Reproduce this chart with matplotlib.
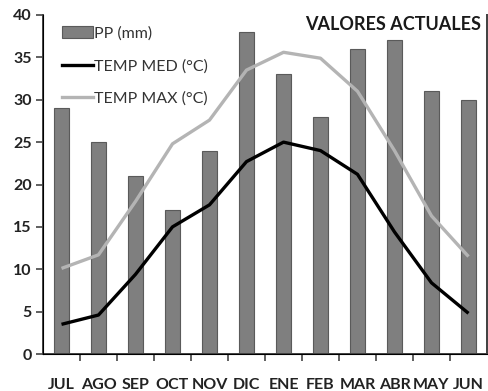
import numpy as np
import matplotlib
matplotlib.use("Agg")
import matplotlib.pyplot as plt
from matplotlib.patches import Patch
from matplotlib.lines import Line2D

months = ["JUL", "AGO", "SEP", "OCT", "NOV", "DIC", "ENE", "FEB", "MAR", "ABR", "MAY", "JUN"]
pp_mm = [29, 25, 21, 17, 24, 38, 33, 28, 36, 37, 31, 30]
temp_med = [3.5, 4.6, 9.4, 15.0, 17.6, 22.7, 25.0, 24.0, 21.2, 14.4, 8.4, 4.8]
temp_max = [10.1, 11.7, 18.0, 24.8, 27.6, 33.5, 35.6, 34.9, 31.0, 24.0, 16.3, 11.5]

plt.rcParams["font.family"] = ["Lato", "DejaVu Sans"]

fig = plt.figure(figsize=(4.88, 3.91), dpi=100)
ax = fig.add_axes([43 / 488, 37 / 391, 444 / 488, 339 / 391])

x = np.arange(len(months))
ax.bar(x, pp_mm, width=0.4, color="#7f7f7f", edgecolor="#5a5a5a", linewidth=0.8, zorder=2)
ax.plot(x, temp_max, color="#b4b4b4", lw=2.4, solid_joinstyle="round", solid_capstyle="butt", zorder=3)
ax.plot(x, temp_med, color="black", lw=2.4, solid_joinstyle="round", solid_capstyle="butt", zorder=4)

ax.set_xlim(-0.5, 11.5)
ax.set_ylim(0, 40)
ax.set_yticks(np.arange(0, 41, 5))
ax.set_xticks(x)
ax.set_xticklabels(months, fontweight="bold", fontsize=11.5, color="#222222")
ax.set_xticks(np.arange(0.5, 11, 1), minor=True)
ax.tick_params(axis="x", which="major", length=0, pad=17)
ax.tick_params(axis="x", which="minor", length=5, width=1.2, color="#444444", direction="out")
ax.tick_params(axis="y", length=5, width=1.2, color="#444444", pad=3, labelsize=11.5)
for lab in ax.get_yticklabels():
    lab.set_fontweight("bold")
    lab.set_color("#222222")

ax.spines["top"].set_visible(False)
for side in ["left", "right", "bottom"]:
    ax.spines[side].set_color("#444444")
    ax.spines[side].set_linewidth(1.4)

# right axis: ticks only, labels fall outside the picture
ax2 = ax.twinx()
ax2.set_ylim(0, 40)
ax2.set_yticks(np.arange(0, 41, 5))
ax2.set_yticklabels([])
ax2.tick_params(axis="y", length=5, width=1.2, color="#444444")
ax2.spines["top"].set_visible(False)
ax2.spines["right"].set_color("#444444")
ax2.spines["right"].set_linewidth(1.4)

handles = [
    Patch(facecolor="#7f7f7f", edgecolor="#5a5a5a", linewidth=0.8),
    Line2D([], [], color="black", lw=2.4),
    Line2D([], [], color="#b4b4b4", lw=2.4),
]
labels = ["PP (mm)", "TEMP MED (°C)", "TEMP MAX (°C)"]
ax.legend(handles, labels, loc="upper left", bbox_to_anchor=(0.018, 1.0), frameon=False,
          fontsize=11.5, labelcolor="#333333", handlelength=1.9, handleheight=0.7,
          handletextpad=0.1, labelspacing=1.15, borderaxespad=0.3)

fig.text(481 / 488, 1 - 24 / 391, "VALORES ACTUALES", ha="right", va="center",
         fontsize=13, fontweight="bold", color="#1a1a1a")

fig.savefig("out.png", dpi=100)
